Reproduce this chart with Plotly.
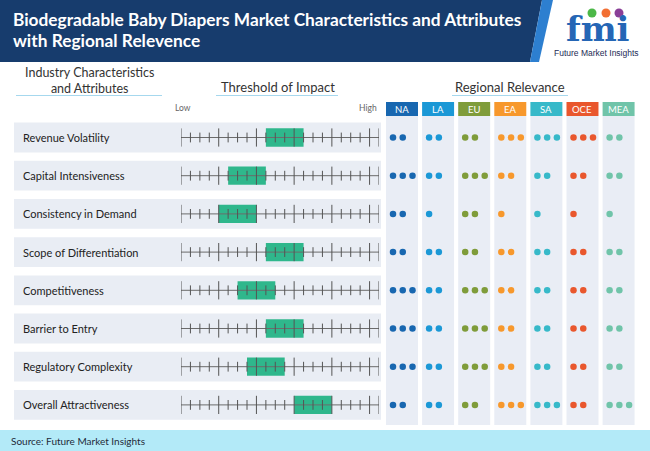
import plotly.graph_objects as go

W, H = 650, 451

# data
attributes = ["Revenue Volatility", "Capital Intensiveness", "Consistency in Demand",
              "Scope of Differentiation", "Competitiveness", "Barrier to Entry",
              "Regulatory Complexity", "Overall Attractiveness"]
impact_start = [9, 5, 4, 9, 6, 9, 7, 12]
impact_end = [13, 9, 8, 13, 10, 13, 11, 16]
scale_ticks = list(range(0, 22))
major_ticks = [0, 4, 8, 12, 16, 20, 21]

regions = ["NA", "LA", "EU", "EA", "SA", "OCE", "MEA"]
region_colors = ["#1867b0", "#1b98d6", "#7f9c3a", "#f7982c", "#37b9c9", "#e9572d", "#70c4a9"]
relevance = {
    "NA":  [2, 3, 2, 2, 3, 3, 3, 2],
    "LA":  [2, 2, 1, 2, 2, 2, 2, 2],
    "EU":  [2, 3, 2, 2, 3, 3, 3, 2],
    "EA":  [3, 2, 1, 2, 2, 2, 2, 3],
    "SA":  [3, 2, 1, 2, 2, 2, 2, 3],
    "OCE": [3, 2, 1, 2, 2, 2, 2, 2],
    "MEA": [2, 2, 1, 2, 2, 2, 2, 3],
}

FONT = "Lato"


def py(v):
    return 1 - v / H


def px(v):
    return v / W


rows = list(range(len(attributes)))
row_top, row_pitch = 118.4, 38.2
rows_bottom = row_top + row_pitch * len(attributes)

fig = go.Figure()

# threshold scale: base line, ticks, impact boxes
fig.add_trace(go.Bar(
    y=rows, x=[e - s for s, e in zip(impact_start, impact_end)], base=impact_start,
    orientation="h", width=0.48, marker=dict(color="#2fb78c", line=dict(width=0)),
    xaxis="x", yaxis="y", hoverinfo="skip"))
for r in rows:
    fig.add_trace(go.Scatter(
        x=[scale_ticks[0], scale_ticks[-1]], y=[r, r], mode="lines",
        line=dict(color="#6b6b6b", width=1), xaxis="x", yaxis="y", hoverinfo="skip"))
minor_x = [t for t in scale_ticks if t not in major_ticks]
fig.add_trace(go.Scatter(
    x=minor_x * len(rows), y=[r for r in rows for _ in minor_x], mode="markers",
    marker=dict(symbol="line-ns", size=7, line=dict(color="#555555", width=1)),
    xaxis="x", yaxis="y", hoverinfo="skip"))
fig.add_trace(go.Scatter(
    x=major_ticks * len(rows), y=[r for r in rows for _ in major_ticks], mode="markers",
    marker=dict(symbol="line-ns", size=13, line=dict(color="#555555", width=1)),
    xaxis="x", yaxis="y", hoverinfo="skip"))

# regional relevance dots
for c, (reg, col) in enumerate(zip(regions, region_colors)):
    xs, ys = [], []
    for r, n in enumerate(relevance[reg]):
        for k in range(n):
            xs.append(c + 0.194 + 0.27 * k)
            ys.append(r)
    fig.add_trace(go.Scatter(
        x=xs, y=ys, mode="markers", marker=dict(size=6.5, color=col),
        xaxis="x2", yaxis="y2", hoverinfo="skip"))

shapes = []
# header band
shapes.append(dict(type="path", xref="paper", yref="paper", layer="below",
                   path=f"M 0 {py(0)} L {px(542)} {py(0)} L {px(530)} {py(62)} L 0 {py(62)} Z",
                   fillcolor="#173c6d", line=dict(width=0)))
shapes.append(dict(type="path", xref="paper", yref="paper", layer="below",
                   path=f"M {px(542)} {py(0)} L {px(553)} {py(0)} L {px(539)} {py(62)} L {px(530)} {py(62)} Z",
                   fillcolor="#2d7fd0", line=dict(width=0)))
# footer band
shapes.append(dict(type="rect", xref="paper", yref="paper", layer="below",
                   x0=0, x1=1, y0=0, y1=py(430), fillcolor="#b3eaf8", line=dict(width=0)))
# underlines
for x0, x1 in [(16, 162), (216, 338), (452, 568)]:
    shapes.append(dict(type="line", xref="paper", yref="paper",
                       x0=px(x0), x1=px(x1), y0=py(95.5), y1=py(95.5),
                       line=dict(color="#a6d8ee", width=1)))
# row backgrounds
for r in rows:
    shapes.append(dict(type="rect", xref="paper", yref="y", layer="below",
                       x0=px(14), x1=px(381), y0=r - 0.39, y1=r + 0.39,
                       fillcolor="#e9edf4", line=dict(width=0)))
# region columns and header boxes
for c, col in enumerate(region_colors):
    shapes.append(dict(type="rect", xref="x2", yref="paper", layer="below",
                       x0=c, x1=c + 0.886, y0=py(425), y1=py(116),
                       fillcolor="#e9edf5", line=dict(width=0)))
    shapes.append(dict(type="rect", xref="x2", yref="paper", layer="below",
                       x0=c, x1=c + 0.886, y0=py(116), y1=py(102),
                       fillcolor=col, line=dict(width=0)))

ann = []
ann.append(dict(x=px(11), y=py(20), xref="paper", yref="paper", xanchor="left", yanchor="middle",
                text="<b>Biodegradable Baby Diapers Market Characteristics and Attributes</b>",
                showarrow=False, font=dict(family=FONT, size=17.3, color="white")))
ann.append(dict(x=px(11), y=py(40), xref="paper", yref="paper", xanchor="left", yanchor="middle",
                text="<b>with Regional Relevence</b>",
                showarrow=False, font=dict(family=FONT, size=17.3, color="white")))
# logo
for cx, cc in [(592, "#4cb848"), (606, "#f26f33"), (619, "#8a3f97")]:
    shapes.append(dict(type="circle", xref="paper", yref="paper",
                       x0=px(cx - 4.5), x1=px(cx + 4.5), y0=py(17.5), y1=py(8.5),
                       fillcolor=cc, line=dict(width=0)))
ann.append(dict(x=px(598), y=py(29), xref="paper", yref="paper", xanchor="center", yanchor="middle",
                text="<b>fmi</b>", showarrow=False,
                font=dict(family="DejaVu Serif", size=34, color="#2566b5")))
ann.append(dict(x=px(596), y=py(53), xref="paper", yref="paper", xanchor="center", yanchor="middle",
                text="Future Market Insights", showarrow=False,
                font=dict(family="Liberation Sans", size=8.5, color="#1d2b55")))
# section headers
ann.append(dict(x=px(89), y=py(80), xref="paper", yref="paper", xanchor="center", yanchor="middle",
                text="Industry Characteristics<br>and Attributes", showarrow=False,
                font=dict(family=FONT, size=12.5, color="#333333")))
ann.append(dict(x=px(278), y=py(87), xref="paper", yref="paper", xanchor="center", yanchor="middle",
                text="Threshold of Impact", showarrow=False,
                font=dict(family=FONT, size=13, color="#333333")))
ann.append(dict(x=px(510), y=py(87), xref="paper", yref="paper", xanchor="center", yanchor="middle",
                text="Regional Relevance", showarrow=False,
                font=dict(family=FONT, size=13, color="#333333")))
ann.append(dict(x=px(183), y=py(108), xref="paper", yref="paper", xanchor="center", yanchor="middle",
                text="Low", showarrow=False, font=dict(family=FONT, size=8.5, color="#666666")))
ann.append(dict(x=px(379), y=py(108), xref="paper", yref="paper", xanchor="right", yanchor="middle",
                text="High", showarrow=False, font=dict(family=FONT, size=8.5, color="#666666")))
for c, reg in enumerate(regions):
    ann.append(dict(x=c + 0.443, y=py(109), xref="x2", yref="paper", xanchor="center",
                    yanchor="middle", text=reg, showarrow=False,
                    font=dict(family=FONT, size=9.5, color="white")))
for r, name in enumerate(attributes):
    ann.append(dict(x=px(21), y=r, xref="paper", yref="y", xanchor="left", yanchor="middle",
                    text=name, showarrow=False, font=dict(family=FONT, size=11, color="#222222")))
ann.append(dict(x=px(9), y=py(440.5), xref="paper", yref="paper", xanchor="left", yanchor="middle",
                text="Source: Future Market Insights", showarrow=False,
                font=dict(family=FONT, size=10, color="#1f2a3a")))

ydom = [py(rows_bottom), py(row_top)]
fig.update_layout(
    width=W, height=H, margin=dict(l=0, r=0, t=0, b=0),
    paper_bgcolor="white", plot_bgcolor="rgba(0,0,0,0)",
    showlegend=False, hovermode=False, barmode="overlay",
    xaxis=dict(domain=[px(181), px(379)], range=[0, 21], visible=False, anchor="y"),
    yaxis=dict(domain=ydom, range=[len(rows) - 0.5, -0.5], visible=False, anchor="x"),
    xaxis2=dict(domain=[px(386), px(386 + 36.1 * 7)], range=[0, 7], visible=False, anchor="y2"),
    yaxis2=dict(domain=ydom, range=[len(rows) - 0.5, -0.5], visible=False, anchor="x2"),
    shapes=shapes, annotations=ann,
)

fig.write_html("out.html", config={"staticPlot": True},
               post_script="document.body.style.margin='0';")
